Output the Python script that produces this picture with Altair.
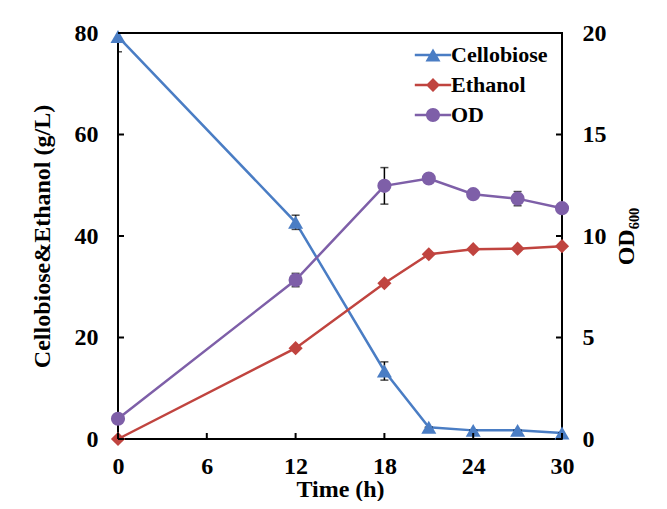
import altair as alt
import pandas as pd

# ---------------- data ----------------
time_h = [0, 12, 18, 21, 24, 27, 30]
cellobiose = [79.3, 42.7, 13.4, 2.3, 1.7, 1.7, 1.2]
cellobiose_err = [3.0, 1.4, 1.8, 0.0, 0.0, 0.0, 0.0]
ethanol = [0.0, 17.9, 30.7, 36.4, 37.4, 37.5, 38.0]
ethanol_err = [0.0, 0.0, 0.0, 0.0, 0.0, 0.0, 0.0]
od600 = [1.0, 7.83, 12.47, 12.83, 12.06, 11.84, 11.37]
od600_err = [0.0, 0.33, 0.9, 0.2, 0.15, 0.35, 0.15]

x_ticks = [0, 6, 12, 18, 24, 30]
left_ticks = [0, 20, 40, 60, 80]
right_ticks = [0, 5, 10, 15, 20]
series = ["Cellobiose", "Ethanol", "OD"]
colors = ["#4A7DC4", "#C0443F", "#7E5FA8"]

W, H = 444, 406
FONT = "Liberation Serif"


def frame(vals, errs):
    return pd.DataFrame({
        "t": time_h,
        "v": vals,
        "lo": [a - b for a, b in zip(vals, errs)],
        "hi": [a + b for a, b in zip(vals, errs)],
    })


cel_df = frame(cellobiose, cellobiose_err)
eth_df = frame(ethanol, ethanol_err)
od_df = frame(od600, od600_err)

SX = alt.Scale(domain=[0, 30], nice=False, zero=False)
SL = alt.Scale(domain=[0, 80], nice=False)
SR = alt.Scale(domain=[0, 20], nice=False)

AX = alt.Axis(values=x_ticks, title="Time (h)", labelPadding=15, titlePadding=-1,
              format="d", labelFlush=False)
AL = alt.Axis(values=left_ticks, title="Cellobiose&Ethanol (g/L)", orient="left",
              labelPadding=20, titlePadding=20, format="d", labelFlush=False)
AR = alt.Axis(values=right_ticks, title="OD₆₀₀", orient="right",
              labelPadding=20, titlePadding=32, titleAngle=270, format="d",
              labelFlush=False)

X = alt.X("t:Q", scale=SX, axis=AX)


def series_layers(df, color, shape, size, scale, axis):
    line = alt.Chart(df).mark_line(color=color, strokeWidth=2.5).encode(
        x=X, y=alt.Y("v:Q", scale=scale, axis=axis))
    err = alt.Chart(df).mark_rule(color="black", strokeWidth=1.5, clip=True).encode(
        x=X, y=alt.Y("lo:Q", scale=scale, axis=axis), y2="hi:Q")
    cap_lo = alt.Chart(df).mark_tick(orient="horizontal", color="black", size=8,
                                     thickness=1.5, clip=True).encode(
        x=X, y=alt.Y("lo:Q", scale=scale, axis=axis))
    cap_hi = alt.Chart(df).mark_tick(orient="horizontal", color="black", size=8,
                                     thickness=1.5, clip=True).encode(
        x=X, y=alt.Y("hi:Q", scale=scale, axis=axis))
    pts = alt.Chart(df).mark_point(filled=True, color=color, shape=shape, size=size,
                                   opacity=1).encode(
        x=X, y=alt.Y("v:Q", scale=scale, axis=axis))
    return [line, err, cap_lo, cap_hi, pts]


# inward tick marks
xt_df = pd.DataFrame({"t": x_ticks})
lt_df = pd.DataFrame({"v": left_ticks})
rt_df = pd.DataFrame({"v": right_ticks})

bottom_ticks = alt.Chart(xt_df).mark_rule(color="black", strokeWidth=2).encode(
    x=X, y=alt.value(H - 6), y2=alt.value(H))
left_tick_marks = alt.Chart(lt_df).mark_rule(color="black", strokeWidth=2).encode(
    y=alt.Y("v:Q", scale=SL, axis=AL), x=alt.value(0), x2=alt.value(6))
right_tick_marks = alt.Chart(rt_df).mark_rule(color="black", strokeWidth=2).encode(
    y=alt.Y("v:Q", scale=SR, axis=AR), x=alt.value(W - 6), x2=alt.value(W))

# legend (line + marker symbols)
legend_paths = [
    "M-2.6,-0.18H2.6V0.18H-2.6Z M0,-0.93L1.07,0.93L-1.07,0.93Z",
    "M-2.6,-0.18H2.6V0.18H-2.6Z M0,-1L1,0L0,1L-1,0Z",
    "M-2.6,-0.18H2.6V0.18H-2.6Z M-1,0A1,1 0 1,1 1,0A1,1 0 1,1 -1,0Z",
]
LEG = alt.Legend(orient="none", legendX=304, legendY=11, title=None,
                 labelFont=FONT, labelFontSize=22, labelFontWeight="bold",
                 labelColor="black", symbolSize=196, symbolStrokeWidth=0,
                 labelOffset=7, rowPadding=8, padding=0, symbolOpacity=1)
leg_df = pd.DataFrame({"series": series})
legend_layer = alt.Chart(leg_df).transform_filter("false").mark_point(
    filled=True, opacity=1).encode(
    color=alt.Color("series:N", scale=alt.Scale(domain=series, range=colors), legend=LEG),
    shape=alt.Shape("series:N", scale=alt.Scale(domain=series, range=legend_paths), legend=LEG),
)

left = alt.layer(
    *series_layers(cel_df, colors[0], "triangle-up", 225, SL, AL),
    *series_layers(eth_df, colors[1], "diamond", 200, SL, AL),
    left_tick_marks, bottom_ticks, legend_layer,
)
right = alt.layer(
    *series_layers(od_df, colors[2], "circle", 200, SR, AR),
    right_tick_marks,
)

chart = alt.layer(left, right).resolve_scale(y="independent").properties(
    width=W, height=H,
    autosize=alt.AutoSizeParams(type="none"),
    padding={"left": 110, "top": 25, "right": 97, "bottom": 62},
).configure_view(
    stroke="black", strokeWidth=2
).configure_axis(
    labelFont=FONT, labelFontWeight="bold", labelFontSize=24, labelColor="black",
    titleFont=FONT, titleFontWeight="bold", titleFontSize=24, titleColor="black",
    grid=False, domain=False, ticks=False, tickSize=0,
)

chart.save("out.html", embed_options={"renderer": "svg", "actions": False})
